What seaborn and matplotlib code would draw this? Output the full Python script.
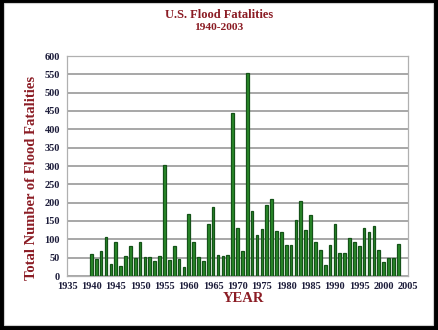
import matplotlib
matplotlib.use("Agg")
import matplotlib.pyplot as plt
import seaborn as sns
import pandas as pd
from matplotlib.patches import Rectangle
from matplotlib.ticker import MultipleLocator

# Annual U.S. flood fatalities
years = list(range(1940, 2004))
fatalities = [61, 47, 69, 106, 34, 92, 28, 54, 83, 49,
              93, 52, 53, 40, 54, 302, 43, 83, 47, 25,
              170, 93, 53, 42, 143, 188, 56, 54, 56, 445,
              131, 69, 554, 178, 112, 127, 193, 210, 124, 120,
              84, 84, 154, 204, 126, 167, 94, 70, 31, 85,
              143, 62, 62, 104, 92, 81, 131, 119, 136, 70,
              38, 49, 49, 86]

title_text = "U.S. Flood Fatalities"
subtitle_text = "1940-2003"
x_label = "YEAR"
y_label = "Total Number of Flood Fatalities"

df = pd.DataFrame({"year": years, "deaths": fatalities})

sns.set_style("white")
plt.rcParams["font.family"] = ["Liberation Serif", "DejaVu Serif"]

W, H = 438, 330
fig = plt.figure(figsize=(W / 100, H / 100), dpi=100, facecolor="black")
# white panel inside the dark frame
fig.patches.append(Rectangle((4 / W, 5 / H), (433 - 4) / W, (325 - 3) / H,
                             transform=fig.transFigure, facecolor="white",
                             edgecolor="#d0d0d0", lw=0.8, zorder=-5))

left, right, top, bottom = 67, 408, 56, 276
ax = fig.add_axes([left / W, 1 - bottom / H, (right - left) / W, (bottom - top) / H])
ax.set_zorder(2)
ax.set_facecolor("white")

sns.barplot(data=df, x="year", y="deaths", native_scale=True, width=0.55,
            color="#2a8a2a", edgecolor="#145218", linewidth=0.9,
            saturation=1, ax=ax, zorder=3)

ax.set_xlim(1935, 2005)
ax.set_ylim(0, 600)
ax.xaxis.set_major_locator(MultipleLocator(5))
ax.xaxis.set_minor_locator(MultipleLocator(1))
ax.yaxis.set_major_locator(MultipleLocator(50))

ax.yaxis.grid(True, color="#909090", lw=1.1, zorder=0)
ax.set_axisbelow(True)
for s in ["left", "bottom", "right", "top"]:
    ax.spines[s].set_color("#b0b0b0")
    ax.spines[s].set_linewidth(0.9)

tick_color = "#1c1c3a"
ax.tick_params(axis="y", which="major", direction="out", length=3, color="#909090",
               labelsize=7.5, labelcolor=tick_color, pad=2)
ax.tick_params(axis="x", which="major", direction="in", length=3, color="#909090",
               labelsize=7.5, labelcolor=tick_color, pad=4)
ax.tick_params(axis="x", which="minor", direction="in", length=2.5, color="#a0a0a0")
for lab in ax.get_xticklabels() + ax.get_yticklabels():
    lab.set_fontweight("bold")

red = "#8b1c24"
ax.set_xlabel("")
ax.set_ylabel("")
fig.text(243 / W, 1 - 299 / H, x_label, ha="center", va="center",
         color=red, fontsize=10.5, fontweight="bold")
fig.text(32 / W, 1 - 178 / H, y_label, ha="center", va="center", rotation=90,
         color=red, fontsize=10.5, fontweight="bold")

fig.text(219 / W, 1 - 15 / H, title_text, ha="center", va="center",
         color=red, fontsize=9, fontweight="bold")
fig.text(219 / W, 1 - 28 / H, subtitle_text, ha="center", va="center",
         color=red, fontsize=8.2, fontweight="bold")

fig.savefig("out.png", dpi=100, facecolor="black")
